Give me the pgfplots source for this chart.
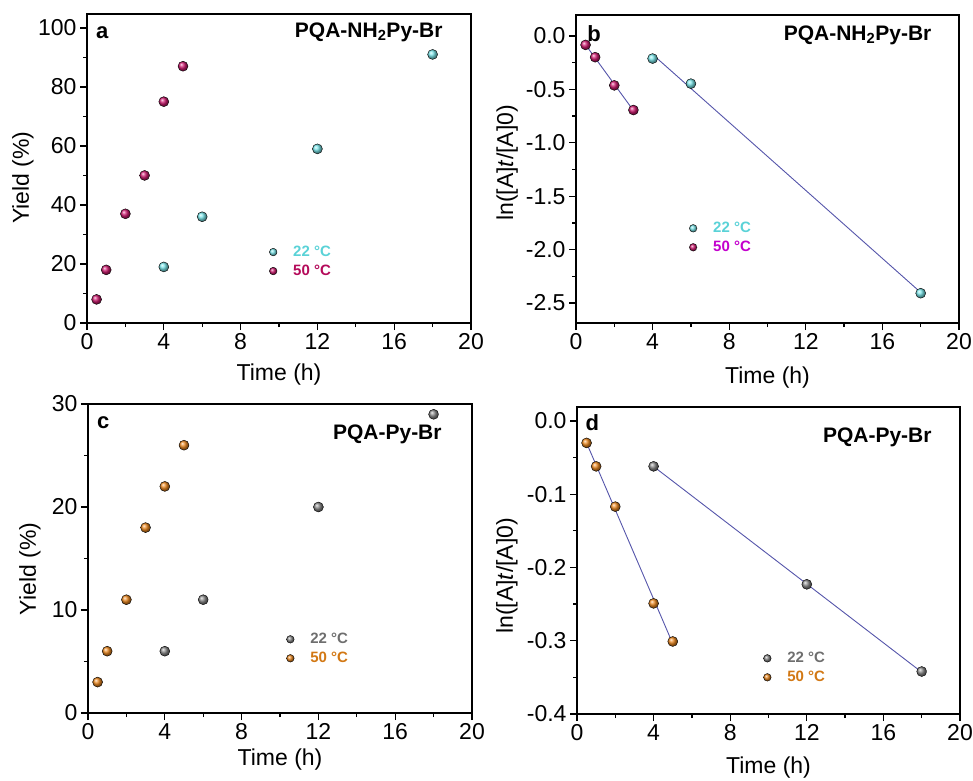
\documentclass[border=0pt]{standalone}
\usepackage{pgfplots}
\pgfplotsset{compat=1.18}
\usepackage{fontspec}
\setmainfont{Liberation Sans}
\definecolor{cyanb}{RGB}{120,228,232}
\definecolor{crim}{RGB}{205,25,110}
\definecolor{grayb}{RGB}{135,135,135}
\definecolor{orng}{RGB}{235,135,30}
\definecolor{fitc}{RGB}{85,85,170}
\definecolor{t22a}{RGB}{90,210,215}
\definecolor{t50a}{RGB}{180,10,90}
\definecolor{t50b}{RGB}{195,0,205}
\definecolor{t22c}{RGB}{110,110,110}
\definecolor{t50c}{RGB}{210,120,20}
\newcommand{\lbl}{\fontsize{23}{27}\selectfont}
\pgfplotsset{
  panel/.style={
    scale only axis, width=384pt, height=309pt,
    xmin=0, xmax=20, xtick={0,4,...,20}, minor x tick num=1, minor y tick num=1,
    axis line style={line width=1.6pt},
    tick align=outside, xtick pos=bottom, ytick pos=left,
    major tick length=7pt, minor tick length=4pt,
    tick style={black, line width=1.3pt},
    tick label style={font=\lbl},
    /pgf/number format/assume math mode=true,
    xlabel={Time (h)},
    clip=false,
    legend cell align=left,
    legend style={draw=none, fill=none, font=\bfseries\fontsize{15}{18}\selectfont,
      row sep=3pt, anchor=north west, inner sep=0pt},
  },
  myleg/.style={legend image code/.code={%
      \pgfpathrectangle{\pgfpoint{-4pt}{-3pt}}{\pgfpoint{22pt}{6pt}}\pgfusepath{}%
      \draw[##1,mark size=3.8pt] plot coordinates {(0pt,0pt)};}},
  pt22a/.style={only marks, mark=ball, ball color=cyanb, mark size=5pt, myleg},
  pt50a/.style={only marks, mark=ball, ball color=crim, mark size=5pt, myleg},
  pt22c/.style={only marks, mark=ball, ball color=grayb, mark size=5pt, myleg},
  pt50c/.style={only marks, mark=ball, ball color=orng, mark size=5pt, myleg},
  fit/.style={fitc, line width=0.9pt, no marks, forget plot},
}
\begin{document}
\begin{tikzpicture}
\useasboundingbox (0,0) rectangle (973pt,780pt);
% ---------- panel a ----------
\begin{axis}[panel, at={(87pt,457pt)}, anchor=south west,
  ymin=0, ymax=104.7, ytick={0,20,...,100},
  ylabel={Yield (\%)},
  every axis y label/.style={at={(axis description cs:-0.167,0.47)}, rotate=90, anchor=center, font=\lbl},
  every axis x label/.style={at={(axis description cs:0.5,-0.168)}, anchor=center, font=\lbl},
  legend style={at={(0.474,0.256)}}]
\addplot[pt22a] coordinates {(4,19) (6,36) (12,59) (18,91)};
\addlegendentry{\textcolor{t22a}{22 °C}}
\addplot[pt50a] coordinates {(0.5,8) (1,18) (2,37) (3,50) (4,75) (5,87)};
\addlegendentry{\textcolor{t50a}{50 °C}}
\node[font=\bfseries\fontsize{22}{26}\selectfont] at (rel axis cs:0.04,0.94) {a};
\node[anchor=east, font=\bfseries\fontsize{21}{25}\selectfont] at (rel axis cs:0.935,0.94) {PQA-NH\textsubscript{2}Py-Br};
\end{axis}
% ---------- panel b ----------
\begin{axis}[panel, at={(576pt,457pt)}, anchor=south west, width=383pt, height=308pt,
  ymin=-2.687, ymax=0.197, ytick={-2.5,-2,...,0},
  yticklabel style={/pgf/number format/.cd, fixed, fixed zerofill, precision=1},
  ylabel={ln([A]\textit{t}/[A]0)},
  every axis y label/.style={at={(axis description cs:-0.18,0.52)}, rotate=90, anchor=center, font=\lbl},
  every axis x label/.style={at={(axis description cs:0.5,-0.178)}, anchor=center, font=\lbl},
  legend style={at={(0.295,0.334)}}]
\addplot[pt22a] coordinates {(4,-0.211) (6,-0.446) (18,-2.408)};
\addlegendentry{\textcolor{t22a}{22 °C}}
\addplot[pt50a] coordinates {(0.5,-0.083) (1,-0.198) (2,-0.462) (3,-0.693)};
\addlegendentry{\textcolor{t50b}{50 °C}}
\addplot[fit] coordinates {(4,-0.172) (18,-2.401)};
\addplot[fit] coordinates {(0.5,-0.082) (3,-0.698)};
\node[font=\bfseries\fontsize{22}{26}\selectfont] at (rel axis cs:0.047,0.94) {b};
\node[anchor=east, font=\bfseries\fontsize{21}{25}\selectfont] at (rel axis cs:0.937,0.935) {PQA-NH\textsubscript{2}Py-Br};
\end{axis}
% ---------- panel c ----------
\begin{axis}[panel, at={(88pt,67pt)}, anchor=south west,
  ymin=0, ymax=30, ytick={0,10,20,30},
  ylabel={Yield (\%)},
  every axis y label/.style={at={(axis description cs:-0.151,0.466)}, rotate=90, anchor=center, font=\lbl},
  every axis x label/.style={at={(axis description cs:0.5,-0.152)}, anchor=center, font=\lbl},
  legend style={at={(0.516,0.265)}}]
\addplot[pt22c] coordinates {(4,6) (6,11) (12,20) (18,29)};
\addlegendentry{\textcolor{t22c}{22 °C}}
\addplot[pt50c] coordinates {(0.5,3) (1,6) (2,11) (3,18) (4,22) (5,26)};
\addlegendentry{\textcolor{t50c}{50 °C}}
\node[font=\bfseries\fontsize{22}{26}\selectfont] at (rel axis cs:0.04,0.94) {c};
\node[anchor=east, font=\bfseries\fontsize{21}{25}\selectfont] at (rel axis cs:0.93,0.903) {PQA-Py-Br};
\end{axis}
% ---------- panel d ----------
\begin{axis}[panel, at={(577pt,66pt)}, anchor=south west, width=383pt, height=307pt,
  ymin=-0.4, ymax=0.019, ytick={-0.4,-0.3,...,0},
  yticklabel style={/pgf/number format/.cd, fixed, fixed zerofill, precision=1},
  ylabel={ln([A]\textit{t}/[A]0)},
  every axis y label/.style={at={(axis description cs:-0.183,0.45)}, rotate=90, anchor=center, font=\lbl},
  every axis x label/.style={at={(axis description cs:0.5,-0.173)}, anchor=center, font=\lbl},
  legend style={at={(0.486,0.208)}}]
\addplot[pt22c] coordinates {(4,-0.062) (12,-0.223) (18,-0.342)};
\addlegendentry{\textcolor{t22c}{22 °C}}
\addplot[pt50c] coordinates {(0.5,-0.030) (1,-0.062) (2,-0.117) (4,-0.249) (5,-0.301)};
\addlegendentry{\textcolor{t50c}{50 °C}}
\addplot[fit] coordinates {(4,-0.0622) (18,-0.3429)};
\addplot[fit] coordinates {(0.5,-0.030) (5,-0.304)};
\node[font=\bfseries\fontsize{22}{26}\selectfont] at (rel axis cs:0.04,0.948) {d};
\node[anchor=east, font=\bfseries\fontsize{21}{25}\selectfont] at (rel axis cs:0.935,0.902) {PQA-Py-Br};
\end{axis}
\end{tikzpicture}
\end{document}
